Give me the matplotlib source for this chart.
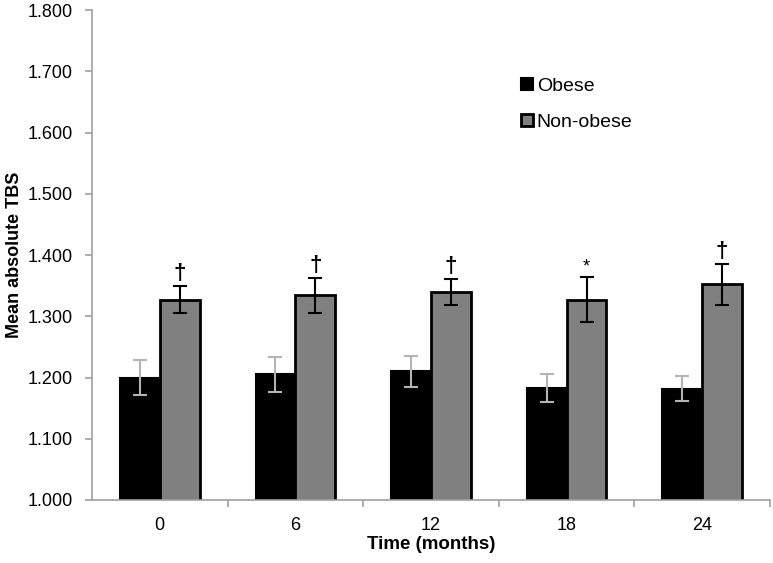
import numpy as np
import matplotlib.pyplot as plt

plt.rcParams['font.family'] = ['Liberation Sans', 'DejaVu Sans']

# data
months = ['0', '6', '12', '18', '24']
obese = [1.200, 1.205, 1.210, 1.183, 1.182]
obese_err = [0.028, 0.028, 0.025, 0.023, 0.020]
non_obese = [1.327, 1.334, 1.340, 1.327, 1.352]
non_obese_err = [0.022, 0.029, 0.021, 0.037, 0.034]
marks = ['†', '†', '†', '*', '†']

fig = plt.figure(figsize=(7.73, 5.63), dpi=100)
ax = fig.add_axes([92 / 773, 63 / 563, 678 / 773, 490 / 563])

x = np.arange(len(months))
w = 0.294

ax.bar(x - w / 2, obese, w, color='black', edgecolor='black',
       linewidth=1.5, label='Obese', zorder=2)
ax.bar(x + w / 2, non_obese, w, color='#808080', edgecolor='black',
       linewidth=2, label='Non-obese', zorder=2)
ax.errorbar(x - w / 2, obese, yerr=obese_err, fmt='none', ecolor='#b4b4b4',
            elinewidth=1.5, capsize=5, capthick=1.5, zorder=3)
ax.errorbar(x + w / 2, non_obese, yerr=non_obese_err, fmt='none', ecolor='black',
            elinewidth=1.5, capsize=5, capthick=1.5, zorder=3)

for i in range(len(months)):
    top = non_obese[i] + non_obese_err[i]
    if marks[i] == '*':
        ax.text(x[i] + w / 2, top + 0.002, marks[i], ha='center', va='bottom',
                fontsize=13)
    else:
        ax.text(x[i] + w / 2, top + 0.003, marks[i], ha='center', va='bottom',
                fontsize=16, fontweight='bold')

ax.set_ylim(1.0, 1.8)
ax.set_xlim(-0.5, len(months) - 0.5)
ax.set_yticks(np.arange(1.0, 1.81, 0.1))
ax.set_yticklabels([f'{v:.3f}' for v in np.arange(1.0, 1.81, 0.1)], fontsize=13)
ax.set_xticks(x)
ax.set_xticklabels(months, fontsize=13)
ax.set_xticks(np.arange(0.5, len(months), 1), minor=True)
ax.tick_params(axis='x', which='major', length=0, pad=12)
ax.tick_params(axis='x', which='minor', length=5, color='#a0a0a0', width=1.2)
ax.tick_params(axis='y', length=5, color='#a0a0a0', width=1.2, pad=9)

for s in ['top', 'right']:
    ax.spines[s].set_visible(False)
for s in ['left', 'bottom']:
    ax.spines[s].set_color('#a0a0a0')
    ax.spines[s].set_linewidth(1.2)

ax.set_ylabel('Mean absolute TBS', fontsize=13, fontweight='bold', labelpad=3)
ax.set_xlabel('Time (months)', fontsize=13.5, fontweight='bold', labelpad=2)

leg = ax.legend(loc='upper left', bbox_to_anchor=(0.633, 0.862), frameon=False,
                fontsize=14, handlelength=0.6, handleheight=0.6,
                handletextpad=0.2, labelspacing=1.0, borderaxespad=0,
                borderpad=0)

fig.savefig('out.png', dpi=100)
